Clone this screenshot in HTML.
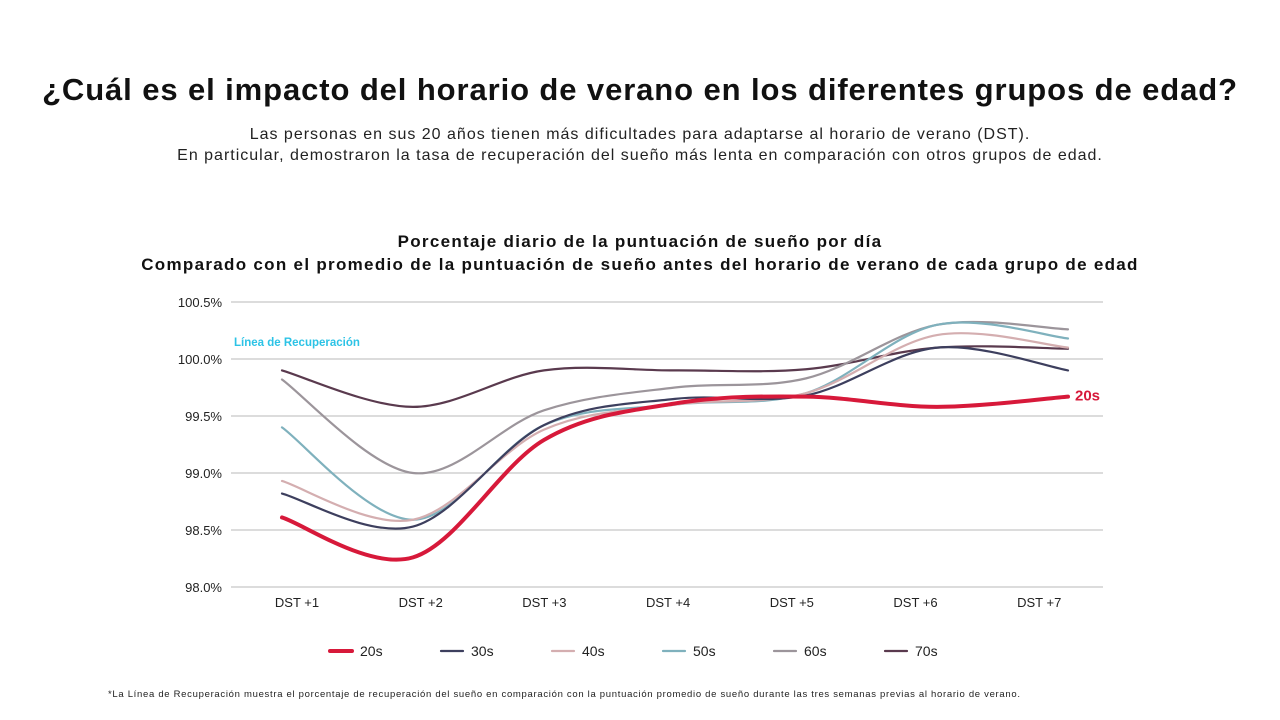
<!DOCTYPE html>
<html><head><meta charset="utf-8">
<style>
body{margin:0;width:1280px;height:720px;background:#fff;font-family:"Liberation Sans",sans-serif;overflow:hidden;position:relative}
.t{position:absolute;left:0;width:1280px;text-align:center;color:#111;white-space:nowrap}
</style></head><body>
<div class="t" style="top:72px;font-size:31px;font-weight:bold;letter-spacing:0.9px">¿Cuál es el impacto del horario de verano en los diferentes grupos de edad?</div>
<div class="t" style="top:124px;font-size:16px;line-height:21px;color:#222;letter-spacing:1px">Las personas en sus 20 años tienen más dificultades para adaptarse al horario de verano (DST).<br>En particular, demostraron la tasa de recuperación del sueño más lenta en comparación con otros grupos de edad.</div>
<div class="t" style="top:230px;font-size:17px;font-weight:bold;line-height:23px;letter-spacing:1.3px">Porcentaje diario de la puntuación de sueño por día<br>Comparado con el promedio de la puntuación de sueño antes del horario de verano de cada grupo de edad</div>
<svg id="c" width="1280" height="720" style="position:absolute;left:0;top:0" font-family="Liberation Sans, sans-serif">
<defs><linearGradient id="g" x1="0" x2="1"><stop offset="0" stop-color="#22c3ea"/><stop offset="0.55" stop-color="#27c8c8"/><stop offset="1" stop-color="#2fcf86"/></linearGradient></defs>
</svg>
<div style="position:absolute;left:108px;top:689px;font-size:9.5px;color:#222;letter-spacing:0.7px;white-space:nowrap">*La Línea de Recuperación muestra el porcentaje de recuperación del sueño en comparación con la puntuación promedio de sueño durante las tres semanas previas al horario de verano.</div>
<script>
const categories=["DST +1","DST +2","DST +3","DST +4","DST +5","DST +6","DST +7"];
const yTicks=[98.0,98.5,99.0,99.5,100.0,100.5];
const groups=["20s","30s","40s","50s","60s","70s"];
const s20=[98.61,98.26,99.29,99.61,99.67,99.58,99.67];
const s30=[98.82,98.53,99.42,99.65,99.68,100.1,99.9];
const s40=[98.93,98.59,99.38,99.6,99.7,100.21,100.1];
const s50=[99.4,98.59,99.42,99.6,99.7,100.3,100.18];
const s60=[99.82,99.0,99.55,99.75,99.83,100.3,100.26];
const s70=[99.9,99.58,99.9,99.9,99.91,100.1,100.09];
const recovery=100.0;
const colors=["#d7193a","#3d3f5e","#d4aeb0","#7fb1bd","#9c959b","#5a3a4e"];
const svg=document.getElementById('c');const NS="http://www.w3.org/2000/svg";
const y=v=>359-(v-100)*114;
const xl=i=>297+i*123.7;
const xs=i=>282+i*131;
function mk(t,a,txt){const e=document.createElementNS(NS,t);for(const k in a)e.setAttribute(k,a[k]);if(txt!==undefined)e.textContent=txt;svg.appendChild(e);return e;}
yTicks.forEach(v=>{
 const l=mk('line',{x1:231,x2:1103,y1:y(v),y2:y(v),stroke:'#c8c8c8','stroke-width':1.3});
 
 
 const t=mk('text',{x:222,y:y(v)+5,'text-anchor':'end','font-size':13,fill:'#222'},v.toFixed(1)+'%');
 
 
});
categories.forEach((c,i)=>{
 const t=mk('text',{x:xl(i),y:607,'text-anchor':'middle','font-size':13,fill:'#222'},c);
 
 
});
const rl=mk('line',{x1:234,x2:1102,y1:y(recovery),y2:y(recovery),stroke:'url(#g)','stroke-width':7.5,'stroke-linecap':'round'});


const rt=mk('text',{x:234,y:y(recovery)-13,'font-size':11.5,'font-weight':'bold',fill:'#2cc3e6'},'Línea de Recuperación');


function path(vals){
 const p=vals.map((v,i)=>[xs(i),y(v)]);let d=`M${p[0][0]},${p[0][1]}`;
 for(let i=0;i<p.length-1;i++){const p0=p[Math.max(0,i-1)],p1=p[i],p2=p[i+1],p3=p[Math.min(p.length-1,i+2)];
  const c1=[p1[0]+(p2[0]-p0[0])/6,p1[1]+(p2[1]-p0[1])/6],c2=[p2[0]-(p3[0]-p1[0])/6,p2[1]-(p3[1]-p1[1])/6];
  d+=` C${c1[0]},${c1[1]} ${c2[0]},${c2[1]} ${p2[0]},${p2[1]}`;}
 return d;}
const series=[s20,s30,s40,s50,s60,s70];
for(let k=series.length-1;k>=0;k--){
 const e=mk('path',{d:path(series[k]),fill:'none',stroke:colors[k],'stroke-width':k==0?4:2.2,'stroke-linecap':'round'});
 
 
}
const el=mk('text',{x:1075,y:y(s20[6])+4,'font-size':15,'font-weight':'bold',fill:colors[0]},'20s');


groups.forEach((g,i)=>{
 const x0=330+i*111;
 const l=mk('line',{x1:x0,x2:x0+22,y1:651,y2:651,stroke:colors[i],'stroke-width':i==0?4:2.2,'stroke-linecap':'round'});
 
 
 const t=mk('text',{x:x0+30,y:656,'font-size':14,fill:'#222'},g);
 
 
});
</script>
</body></html>
